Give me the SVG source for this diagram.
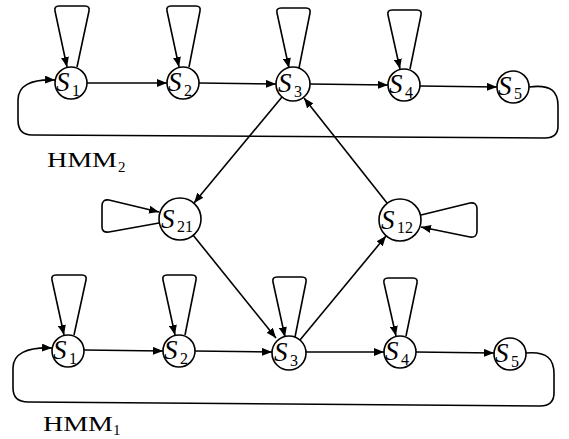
<svg xmlns="http://www.w3.org/2000/svg" width="569" height="439" viewBox="0 0 569 439">
  <style>
    .edge { fill: none; stroke: #000; stroke-width: 1.6; stroke-linejoin: round; }
    .node circle { fill: #fff; stroke: #000; stroke-width: 1.6; }
    .s { font-family: "Liberation Serif", "DejaVu Serif", serif; font-style: italic; font-size: 27px; fill: #000; }
    .sub { font-family: "Liberation Serif", "DejaVu Serif", serif; font-size: 16px; fill: #000; }
    .lbl { font-family: "Liberation Serif", "DejaVu Serif", serif; font-size: 22px; fill: #000; }
    .lsub { font-family: "Liberation Serif", "DejaVu Serif", serif; font-size: 15px; fill: #000; }
  </style>
  <defs>
    <marker id="arr" viewBox="0 0 10 8" refX="10" refY="4" markerWidth="10" markerHeight="8" markerUnits="userSpaceOnUse" orient="auto">
      <path d="M0,0 L10,4 L0,8 Z" fill="#000"/>
    </marker>
  </defs>

  <!-- connectors -->
  <g id="connectors">
    <!-- HMM2 self-loops -->
    <path class="edge" marker-end="url(#arr)" d="M77 67 L89 11 Q90 6 85 6 L59 6 Q54 6 55 11 L67 67"/>
    <path class="edge" marker-end="url(#arr)" d="M189 67 L200 11 Q201 6 196 6 L171 6 Q166 6 167 11 L179 67"/>
    <path class="edge" marker-end="url(#arr)" d="M299 68 L310 13 Q311 8 306 8 L281 8 Q276 8 277 13 L289 68"/>
    <path class="edge" marker-end="url(#arr)" d="M410 69 L421 15 Q422 10 417 10 L392 10 Q387 10 388 15 L400 69"/>
    <!-- HMM2 chain -->
    <path class="edge" marker-end="url(#arr)" d="M87 83 L167 83"/>
    <path class="edge" marker-end="url(#arr)" d="M199 83 L276 84"/>
    <path class="edge" marker-end="url(#arr)" d="M310 84 L388 85"/>
    <path class="edge" marker-end="url(#arr)" d="M420 86 L497 87"/>
    <!-- HMM2 return path -->
    <path class="edge" marker-end="url(#arr)" d="M529 87 C552 84 558 92 558 106 L558 126 Q558 138 545 138 L32 135 Q18 135 18 120 L18 100 C18 86 30 79 55 80"/>

    <!-- HMM1 self-loops -->
    <path class="edge" marker-end="url(#arr)" d="M74 335 L86 280 Q87 275 82 275 L56 275 Q51 275 52 280 L64 335"/>
    <path class="edge" marker-end="url(#arr)" d="M185 335 L196 280 Q197 275 192 275 L167 275 Q162 275 163 280 L175 335"/>
    <path class="edge" marker-end="url(#arr)" d="M295 337 L306 282 Q307 277 302 277 L277 277 Q272 277 273 282 L285 337"/>
    <path class="edge" marker-end="url(#arr)" d="M406 336 L417 283 Q418 278 413 278 L388 278 Q383 278 384 283 L396 336"/>
    <!-- HMM1 chain -->
    <path class="edge" marker-end="url(#arr)" d="M84 350 L163 351"/>
    <path class="edge" marker-end="url(#arr)" d="M195 351 L272 352"/>
    <path class="edge" marker-end="url(#arr)" d="M306 352 L384 352"/>
    <path class="edge" marker-end="url(#arr)" d="M416 352 L494 353"/>
    <!-- HMM1 return path -->
    <path class="edge" marker-end="url(#arr)" d="M526 353 C548 351 554 360 554 374 L554 393 Q554 406 540 406 L28 402 Q13 402 13 388 L13 368 C13 354 26 347 52 348"/>

    <!-- transitions between the models -->
    <path class="edge" marker-end="url(#arr)" d="M282 97 L194 203"/>
    <path class="edge" marker-end="url(#arr)" d="M387 203 L304 98"/>
    <path class="edge" marker-end="url(#arr)" d="M193 235 L276 338"/>
    <path class="edge" marker-end="url(#arr)" d="M300 340 L386 236"/>

    <!-- middle self-loops -->
    <path class="edge" marker-end="url(#arr)" d="M159 223 L109 232 Q102 233 102 227 L102 206 Q102 199 109 200 L159 212"/>
    <path class="edge" marker-end="url(#arr)" d="M421 215 L470 203 Q477 202 477 209 L477 231 Q477 238 470 237 L421 227"/>
  </g>

  <!-- HMM2 states -->
  <g id="h2-s1" class="node"><circle cx="71" cy="83" r="16"/><text class="s" x="56" y="91">S</text><text class="sub" x="72" y="96">1</text></g>
  <g id="h2-s2" class="node"><circle cx="183" cy="83" r="16"/><text class="s" x="168" y="91">S</text><text class="sub" x="184" y="96">2</text></g>
  <g id="h2-s3" class="node"><circle cx="293" cy="84" r="17"/><text class="s" x="278" y="92">S</text><text class="sub" x="294" y="97">3</text></g>
  <g id="h2-s4" class="node"><circle cx="404" cy="85" r="16"/><text class="s" x="389" y="93">S</text><text class="sub" x="405" y="98">4</text></g>
  <g id="h2-s5" class="node"><circle cx="513" cy="87" r="16"/><text class="s" x="498" y="95">S</text><text class="sub" x="514" y="99">5</text></g>

  <!-- bridging states -->
  <g id="s21" class="node"><circle cx="180" cy="219" r="21"/><text class="s" x="161" y="228">S</text><text class="sub" x="177" y="232">21</text></g>
  <g id="s12" class="node"><circle cx="400" cy="220" r="21"/><text class="s" x="381" y="229">S</text><text class="sub" x="397" y="233">12</text></g>

  <!-- HMM1 states -->
  <g id="h1-s1" class="node"><circle cx="68" cy="351" r="16"/><text class="s" x="53" y="359">S</text><text class="sub" x="69" y="364">1</text></g>
  <g id="h1-s2" class="node"><circle cx="179" cy="351" r="16"/><text class="s" x="164" y="359">S</text><text class="sub" x="180" y="364">2</text></g>
  <g id="h1-s3" class="node"><circle cx="289" cy="353" r="17"/><text class="s" x="274" y="361">S</text><text class="sub" x="290" y="366">3</text></g>
  <g id="h1-s4" class="node"><circle cx="400" cy="352" r="16"/><text class="s" x="385" y="360">S</text><text class="sub" x="401" y="365">4</text></g>
  <g id="h1-s5" class="node"><circle cx="510" cy="354" r="16"/><text class="s" x="495" y="362">S</text><text class="sub" x="511" y="367">5</text></g>

  <!-- model labels -->
  <g id="label-hmm2"><text class="lbl" x="47" y="167" textLength="70" lengthAdjust="spacingAndGlyphs">HMM</text><text class="lsub" x="118" y="172">2</text></g>
  <g id="label-hmm1"><text class="lbl" x="43" y="431" textLength="70" lengthAdjust="spacingAndGlyphs">HMM</text><text class="lsub" x="113" y="435">1</text></g>
</svg>
